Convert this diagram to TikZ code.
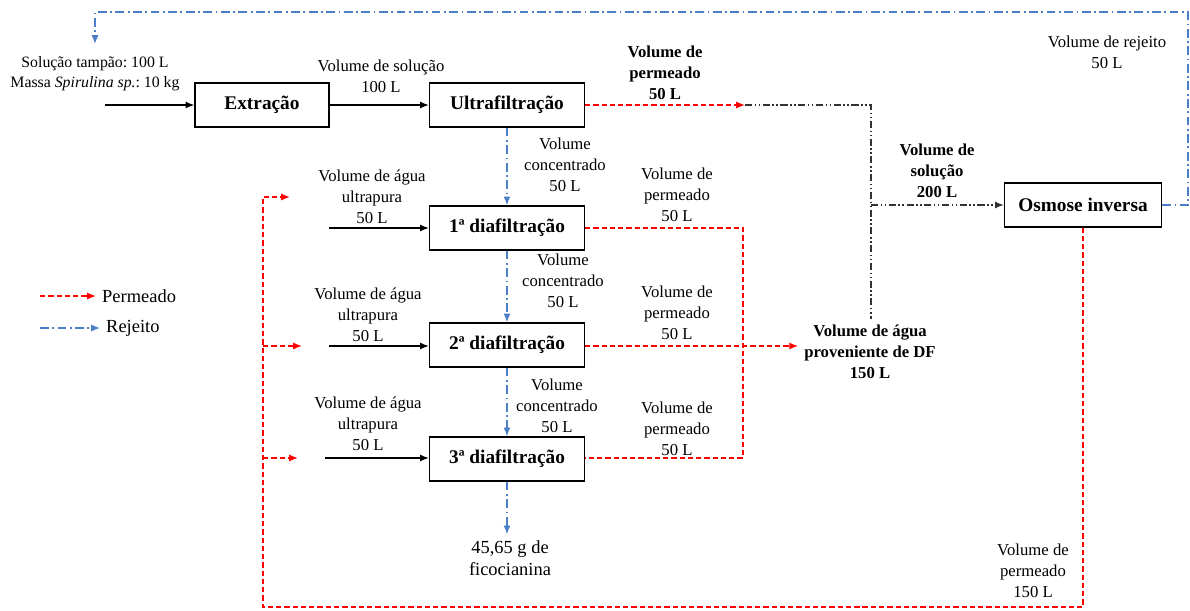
\documentclass[tikz,border=0pt]{standalone}
\usepackage{fontspec}
\setmainfont{Liberation Serif}
\usetikzlibrary{arrows.meta}
\definecolor{rejblue}{HTML}{4A7EC7}
\frenchspacing

\begin{document}
\begin{tikzpicture}[x=0.02cm, y=-0.02cm,
  proc/.style = {draw, line width=0.8pt, minimum width=3.1cm, minimum height=0.88cm, font=\fontsize{11}{13}\selectfont\bfseries},
  lbl/.style = {align=center, font=\fontsize{9.5}{12}\selectfont},
  blbl/.style = {align=center, font=\fontsize{9.5}{12}\selectfont\bfseries},
  tip/.style = {-{Latex[length=5pt,width=4pt]}},
  feed/.style = {tip, line width=0.7pt},
  perm/.style = {red, line width=0.8pt, dash pattern=on 3pt off 1.7pt},
  rej/.style = {rejblue, line width=0.8pt, dash pattern=on 5pt off 2pt on 1pt off 2pt},
  mix/.style = {black!80, line width=0.7pt, dash pattern=on 4pt off 1.5pt on 0.8pt off 1.5pt on 0.8pt off 1.5pt}]
        \useasboundingbox (0,0) rectangle (1190,610);
        \node[proc, minimum width=2.68cm] (extr) at (262,105) {Extração};
        \node[proc] (ultra) at (507,105) {Ultrafiltração};
        \node[proc] (df1) at (507,228) {1ª diafiltração};
        \node[proc] (df2) at (507,345) {2ª diafiltração};
        \node[proc] (df3) at (507,459) {3ª diafiltração};
        \node[proc, minimum width=3.14cm] (osm) at (1083,205) {Osmose inversa};
        \node[lbl, font=\fontsize{9}{11.5}\selectfont] (buffer) at (95,74) {Solução tampão: 100 L\\Massa \textit{Spirulina sp.}: 10 kg};
        \node[lbl] (vsol) at (381,76) {Volume de solução\\100 L};
        \node[blbl] (vperm) at (665,73) {Volume de\\permeado\\50 L};
        \node[blbl] (vsol2) at (937,171) {Volume de\\solução\\200 L};
        \node[lbl] (vrej) at (1107,52) {Volume de rejeito\\50 L};
        \node[blbl] (dfw) at (870,352) {Volume de água\\proveniente de DF\\150 L};
        \node[lbl] (aq1l) at (372,197) {Volume de água\\ultrapura\\50 L};
        \node[lbl] (aq2l) at (368,315) {Volume de água\\ultrapura\\50 L};
        \node[lbl] (aq3l) at (368,424) {Volume de água\\ultrapura\\50 L};
        \node[lbl] (conc1) at (565,165) {Volume\\concentrado\\50 L};
        \node[lbl] (conc2) at (563,281) {Volume\\concentrado\\50 L};
        \node[lbl] (conc3) at (557,406) {Volume\\concentrado\\50 L};
        \node[lbl] (perm1) at (677,195) {Volume de\\permeado\\50 L};
        \node[lbl] (perm2) at (677,313) {Volume de\\permeado\\50 L};
        \node[lbl] (perm3) at (677,429) {Volume de\\permeado\\50 L};
        \node[lbl] (perm150) at (1033,571) {Volume de\\permeado\\150 L};
        \node[lbl, font=\fontsize{10.5}{12.5}\selectfont] (fico) at (510,558) {45,65 g de\\ficocianina};
        \node[lbl, anchor=west, font=\fontsize{10.5}{12.5}\selectfont] (legp) at (96,296) {Permeado};
        \node[lbl, anchor=west, font=\fontsize{10.5}{12.5}\selectfont] (legr) at (100,328) {Rejeito};
        \coordinate (feedin) at (105,105);
        \coordinate (upj) at (745,105);
        \coordinate (rejtop) at (1188,12);
        \coordinate (rejin) at (95,44);
        \coordinate (loopbl) at (263,607);
        \coordinate (w1) at (263,197);
        \coordinate (w1t) at (290,197);
        \coordinate (w2) at (263,346);
        \coordinate (w2t) at (302,346);
        \coordinate (w3) at (263,458);
        \coordinate (w3t) at (298,458);
        \coordinate (aq1) at (329,228);
        \coordinate (aq2) at (329,346);
        \coordinate (aq3) at (325,458);
        \coordinate (dfc1) at (743,228);
        \coordinate (dfc3) at (743,458);
        \coordinate (mixc) at (871,105);
        \coordinate (legps) at (40,296);
        \coordinate (legrs) at (40,328);
        \draw[feed] (feedin) -- (extr);
        \draw[feed] (extr) -- (ultra);
        \draw[feed] (aq1) -- (df1);
        \draw[feed] (aq2) -- (df2.west |- aq2);
        \draw[feed] (aq3) -- (df3.west |- aq3);
        \draw[perm, tip] (ultra) -- (upj);
        \draw[mix] (upj) -- (mixc) -- (mixc |- dfw.north);
        \draw[mix, tip] (mixc |- osm) -- (osm);
        \draw[rej, tip] (osm) -| (rejtop) -| (rejin);
        \draw[perm, tip] (osm) |- (loopbl) -- (w1) -- (w1t);
        \draw[perm, tip] (w2) -- (w2t);
        \draw[perm, tip] (w3) -- (w3t);
        \draw[rej, tip] (ultra) -- (df1);
        \draw[rej, tip] (df1) -- (df2);
        \draw[rej, tip] (df2) -- (df3);
        \draw[rej, tip] (df3) -- (df3.south |- fico.north);
        \draw[perm] (df1) -- (dfc1) -- (dfc3) -- (df3.east |- dfc3);
        \draw[perm, tip] (df2.east |- w2) -- (dfw.west |- w2);
        \draw[perm, tip] (legps) -- (legp);
        \draw[rej, tip] (legrs) -- (legr);
    \end{tikzpicture}
\end{document}
